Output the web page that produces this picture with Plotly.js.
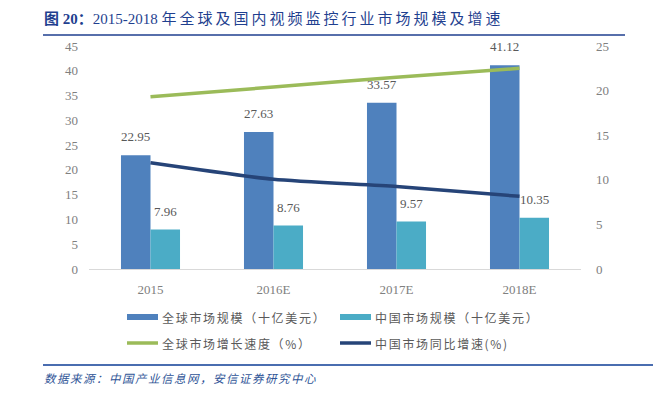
<!DOCTYPE html>
<html>
<head>
<meta charset="utf-8">
<script src="https://cdn.plot.ly/plotly-3.0.1.min.js"></script>
<style>html,body{margin:0;padding:0;background:#fff;}#chart{width:653px;height:398px;}</style>
</head>
<body>
<div id="chart"></div>
<script>
var categories = ["2015", "2016E", "2017E", "2018E"];
var globalSize = [22.95, 27.63, 33.57, 41.12];
var chinaSize = [7.96, 8.76, 9.57, 10.35];
var globalGrowth = [19.3, 20.4, 21.5, 22.5];
var chinaGrowth = [11.9, 10.05, 9.25, 8.15];
var seriesNames = ["全球市场规模（十亿美元）", "中国市场规模（十亿美元）", "全球市场增长速度（%）", "中国市场同比增速(%)"];
var leftTicks = [0, 5, 10, 15, 20, 25, 30, 35, 40, 45];
var rightTicks = [0, 5, 10, 15, 20, 25];
var titlePrefix = "图 20：";
var titleYears = "2015-2018 ";
var titleMain = "年全球及国内视频监控行业市场规模及增速";
var sourceText = "数据来源：中国产业信息网，安信证券研究中心";

var colors = ["#4F81BD", "#4BACC6", "#9BBB59", "#264478"];
var serif = "Liberation Serif, Noto Sans CJK SC, serif";
var cjk = "Noto Sans CJK SC, sans-serif";
var gray = "#595959";
var tickGray = "#808080";

// pixel -> paper helpers (plot area 89..581 x 46..269)
var L = 89, R = 581, T = 46, B = 269;
function px(x){ return (x - L) / (R - L); }
function py(y){ return (B - y) / (B - T); }
function spaced(s, ls){ return '<span style="letter-spacing:' + ls + 'px">' + s + '</span>'; }

var idx = categories.map(function(c, i){ return i; });

var traces = [
  {type: "bar", x: idx, y: globalSize, name: seriesNames[0], marker: {color: colors[0]}, yaxis: "y", showlegend: false, hoverinfo: "skip"},
  {type: "bar", x: idx, y: chinaSize, name: seriesNames[1], marker: {color: colors[1]}, yaxis: "y", showlegend: false, hoverinfo: "skip"},
  {type: "scatter", mode: "lines", x: idx, y: globalGrowth, name: seriesNames[2], line: {color: colors[2], width: 3.5, shape: "spline", smoothing: 0.4}, yaxis: "y2", showlegend: false, hoverinfo: "skip"},
  {type: "scatter", mode: "lines", x: idx, y: chinaGrowth, name: seriesNames[3], line: {color: colors[3], width: 3.5, shape: "spline", smoothing: 0.6}, yaxis: "y2", showlegend: false, hoverinfo: "skip"}
];

var annotations = [];
globalSize.forEach(function(v, i){
  annotations.push({x: i - 0.12, y: v, xref: "x", yref: "y", text: v.toFixed(2), showarrow: false, yanchor: "bottom", yshift: 9, font: {family: serif, size: 13, color: gray}});
});
chinaSize.forEach(function(v, i){
  annotations.push({x: i + 0.12, y: v, xref: "x", yref: "y", text: v.toFixed(2), showarrow: false, yanchor: "bottom", yshift: 9, font: {family: serif, size: 13, color: gray}});
});
// title & source
annotations.push({xref: "paper", yref: "paper", x: px(42), y: py(18), xanchor: "left", yanchor: "middle", align: "left",
  text: "<b>" + titlePrefix + "</b>" + titleYears + spaced(titleMain, 3), showarrow: false, font: {family: serif, size: 15, color: "#1F3F8F"}});
annotations.push({xref: "paper", yref: "paper", x: px(42), y: py(378), xanchor: "left", yanchor: "middle", align: "left",
  text: "<i>" + spaced(sourceText, 1.5) + "</i>", showarrow: false, font: {family: cjk, size: 11.5, color: "#2F5597"}});

var shapes = [
  {type: "line", xref: "paper", yref: "paper", x0: px(43), x1: px(625), y0: py(35), y1: py(35), line: {color: "#1F3F8F", width: 1.5}},
  {type: "line", xref: "paper", yref: "paper", x0: px(43), x1: px(653), y0: py(365), y1: py(365), line: {color: "#4A6DB0", width: 2}}
];

// custom legend
var legendPos = [[127, 317], [340, 317], [127, 343], [340, 343]];
seriesNames.forEach(function(n, i){
  var lx = legendPos[i][0], ly = legendPos[i][1];
  if (i < 2) {
    shapes.push({type: "rect", xref: "paper", yref: "paper", x0: px(lx), x1: px(lx + 31), y0: py(ly + 3), y1: py(ly - 3), fillcolor: colors[i], line: {width: 0}});
  } else {
    shapes.push({type: "line", xref: "paper", yref: "paper", x0: px(lx), x1: px(lx + 31), y0: py(ly), y1: py(ly), line: {color: colors[i], width: 3.5}});
  }
  annotations.push({xref: "paper", yref: "paper", x: px(lx + 33), y: py(ly), xanchor: "left", yanchor: "middle", align: "left",
    text: spaced(n, 1.7), showarrow: false, font: {family: cjk, size: 12, color: gray}});
});

var layout = {
  width: 653, height: 398,
  margin: {l: L, r: 653 - R, t: T, b: 398 - B, pad: 0},
  paper_bgcolor: "#fff", plot_bgcolor: "#fff",
  barmode: "group", bargap: 0.52, bargroupgap: 0,
  showlegend: false,
  xaxis: {
    tickmode: "array", tickvals: idx, ticktext: categories, range: [-0.5, 3.5],
    showline: true, linecolor: "#D9D9D9", linewidth: 1, ticks: "", showgrid: false, zeroline: false,
    tickfont: {family: serif, size: 13, color: tickGray}, ticklabelstandoff: 8
  },
  yaxis: {
    range: [0, 45], tickmode: "array", tickvals: leftTicks, showgrid: false, zeroline: false, showline: false,
    tickfont: {family: serif, size: 13, color: tickGray}, ticks: "", ticklabelstandoff: 10
  },
  yaxis2: {
    range: [0, 25], tickmode: "array", tickvals: rightTicks, overlaying: "y", side: "right", showgrid: false, zeroline: false, showline: false,
    tickfont: {family: serif, size: 13, color: tickGray}, ticks: "", ticklabelstandoff: 14
  },
  annotations: annotations,
  shapes: shapes,
  font: {family: serif, color: gray}
};

Plotly.newPlot("chart", traces, layout, {staticPlot: true, displayModeBar: false});
</script>
</body>
</html>
